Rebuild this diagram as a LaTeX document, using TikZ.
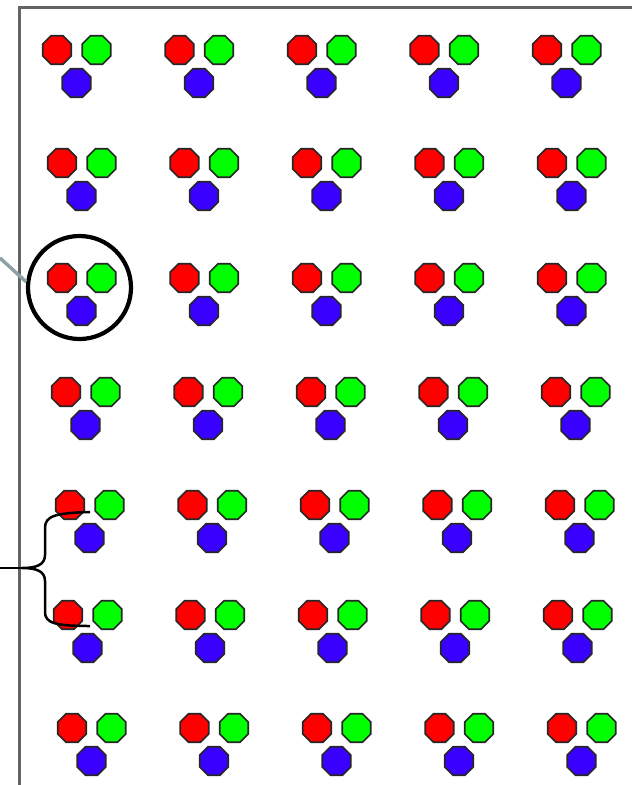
\documentclass[tikz,border=0pt]{standalone}
\usetikzlibrary{shapes.geometric}
\definecolor{octred}{RGB}{255,0,0}
\definecolor{octgreen}{RGB}{0,255,0}
\definecolor{octblue}{RGB}{58,0,255}
\definecolor{framegray}{RGB}{100,100,100}
\definecolor{leadgray}{RGB}{140,160,165}
\begin{document}
\begin{tikzpicture}[x=1pt,y=-1pt,
  oct/.style={regular polygon, regular polygon sides=8, minimum size=31pt, inner sep=0pt, draw=black!85, line width=1.7pt},
  ring/.style={circle, draw=black, line width=4.2pt, minimum size=103pt, inner sep=0pt},
  framestyle/.style={draw=framegray, line width=3pt},
  leadstyle/.style={draw=leadgray, line width=3.4pt},
  bracestyle/.style={draw=black, line width=2.5pt}]
\useasboundingbox (0,0) rectangle (632,785);
\fill[white] (0,0) rectangle (632,785);
% frame
\draw[framestyle] (632,7) -- (19,7) -- (19,785);
% groups of three octagons
\foreach \r/\x/\y in {1/57/50, 2/62/163, 3/62/278, 4/66/392, 5/70/505, 6/68/615, 7/72/728}{
  \foreach \c in {0,...,4}{
    \node[oct, fill=octred]   (red-\r-\c)   at ({\x+\c*122.5},\y) {};
    \node[oct, fill=octgreen] (green-\r-\c) at ({\x+39.5+\c*122.5},\y) {};
    \node[oct, fill=octblue]  (blue-\r-\c)  at ({\x+19.5+\c*122.5},\y+33) {};
  }
}
% highlighting circle and its leader
\node[ring] (ring) at (79.5,287.5) {};
\coordinate (leadstart) at (0,258);
\draw[leadstyle] (leadstart) -- (ring.174);
% brace
\coordinate (btop) at (90,512);
\coordinate (bbot) at (90,626);
\coordinate (btip) at (22,568);
\coordinate (bout) at (0,568);
\draw[bracestyle] (btop) .. controls (55,513) and (45,516) .. (45,528) -- (45,555)
  .. controls (45,565) and (36,568) .. (btip)
  .. controls (36,568) and (45,571) .. (45,581) -- (45,612)
  .. controls (45,623) and (55,626) .. (bbot);
\draw[bracestyle] (btip) -- (bout);
\end{tikzpicture}
\end{document}
